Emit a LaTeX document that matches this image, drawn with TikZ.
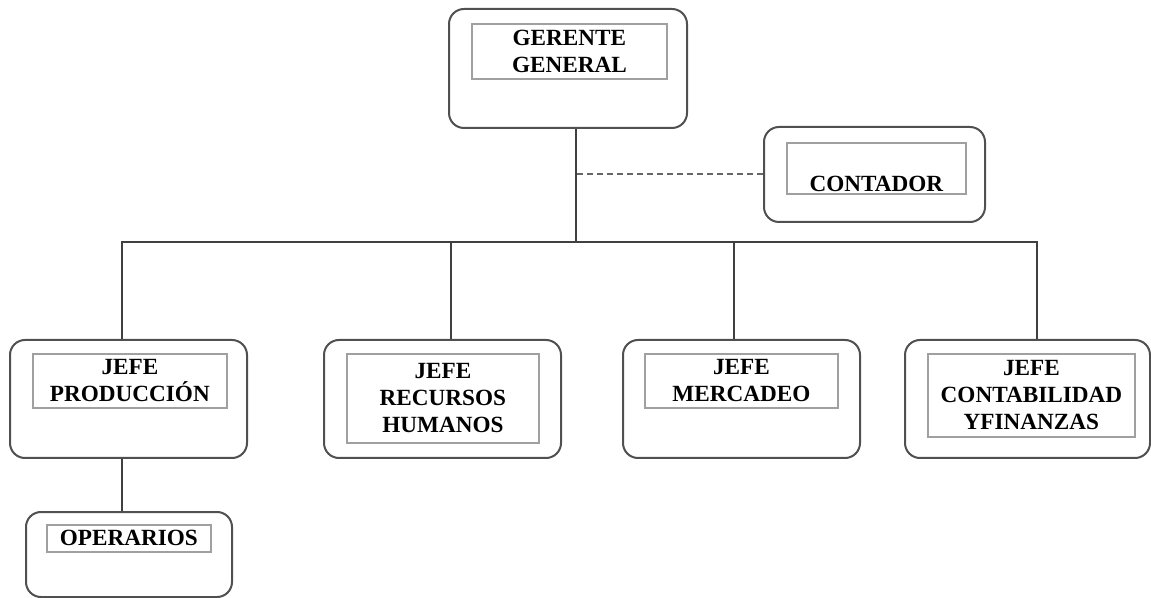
\documentclass[tikz,border=0pt]{standalone}
\usepackage{fontspec}
\setmainfont{Liberation Serif}
\usepackage{tikz}
\usetikzlibrary{positioning}
\definecolor{boxgray}{HTML}{505050}
\definecolor{lblgray}{HTML}{A0A0A0}
\definecolor{linegray}{HTML}{404040}
\begin{document}
\begin{tikzpicture}[x=0.5pt, y=-0.5pt]
\tikzset{
  box/.style={rectangle,rounded corners=7.5pt,draw=boxgray,line width=1pt,minimum width=118.5pt,minimum height=59pt,inner sep=0pt},
  lbl/.style={rectangle,draw=lblgray,line width=0.9pt,inner sep=0pt,align=center,font=\fontsize{11.6}{13.5}\selectfont\bfseries},
  ln/.style={draw=linegray,line width=1pt},
  dln/.style={draw=linegray!80,line width=1pt,dash pattern=on 3pt off 2pt}
}
\useasboundingbox (0,0) rectangle (1151,598);
% ---- outer boxes
\node[box,minimum width=119pt,minimum height=59.5pt] (ger) at (568,68.5) {};
\node[box,minimum width=110.5pt,minimum height=47.5pt] (cont) at (874.5,174.5) {};
\node[box] (prod) at (128.5,399) {};
\node[box] (rrhh) at (442.5,399) {};
\node[box] (merc) at (741.5,399) {};
\node[box,minimum width=122.5pt] (ctb) at (1027.5,399) {};
\node[box,minimum width=103pt,minimum height=42.5pt] (oper) at (129,554.5) {};
% ---- titles
\node[lbl,anchor=north west,minimum width=97.5pt,minimum height=27.5pt,below right=7.5pt and 11.5pt of ger.north west] (gert) {GERENTE\\GENERAL};
\node[lbl,anchor=north west,minimum width=89.5pt,minimum height=25.5pt,below right=8pt and 11.5pt of cont.north west] (contt) {\strut\\CONTADOR};
\node[lbl,anchor=north west,minimum width=97pt,minimum height=27pt,below right=7pt and 11.5pt of prod.north west] (prodt) {JEFE\\PRODUCCIÓN};
\node[lbl,anchor=north west,minimum width=96pt,minimum height=44.5pt,below right=7pt and 11.5pt of rrhh.north west] (rrhht) {JEFE\\RECURSOS\\HUMANOS};
\node[lbl,anchor=north west,minimum width=96.5pt,minimum height=27pt,below right=7pt and 11pt of merc.north west] (merct) {JEFE\\MERCADEO};
\node[lbl,anchor=north west,minimum width=103.5pt,minimum height=41.5pt,below right=7pt and 11.5pt of ctb.north west] (ctbt) {JEFE\\CONTABILIDAD\\YFINANZAS};
\node[lbl,anchor=north west,minimum width=82pt,minimum height=13.5pt,below right=6.5pt and 10.5pt of oper.north west] (opert) {OPERARIOS};
% ---- lines
\coordinate (bar) at (576,242);
\draw[ln] ([xshift=4pt]ger.south) -- (bar);
\draw[ln] ([xshift=-3.25pt]prod.north) |- (bar);
\draw[ln] ([xshift=4.25pt]rrhh.north) |- (bar);
\draw[ln] ([xshift=-3.75pt]merc.north) |- (bar);
\draw[ln] ([xshift=4.75pt]ctb.north) |- (bar);
\draw[dln] (cont.west) -- (cont.west -| bar);
\draw[ln] ([xshift=-3.25pt]prod.south) -- ([xshift=-3.5pt]oper.north);
\end{tikzpicture}
\end{document}
